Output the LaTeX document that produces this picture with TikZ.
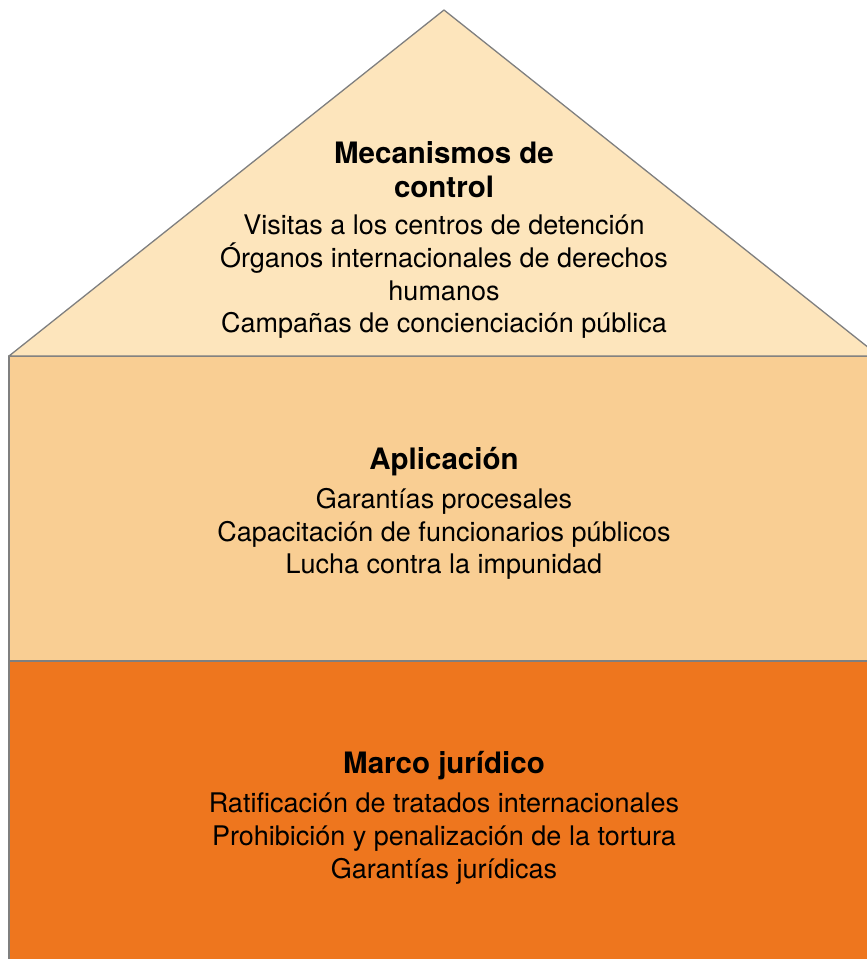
\documentclass[tikz,border=0pt]{standalone}
\usepackage{fontspec}
\setmainfont{TeX Gyre Heros}
\usetikzlibrary{positioning}

\definecolor{roofpeach}{HTML}{FDE5BC}
\definecolor{wallpeach}{HTML}{F9CE93}
\definecolor{baseorange}{HTML}{EE761E}
\definecolor{edgegray}{HTML}{7F7F7F}

\begin{document}
\begin{tikzpicture}[x=1pt, y=-1pt, line join=round,
		block/.style={fill=#1, draw=edgegray, line width=1.3pt},
		heading/.style={font=\fontsize{29.5}{34}\selectfont\bfseries, align=center, inner sep=0pt},
		items/.style={font=\fontsize{27}{32.7}\selectfont, align=center, inner sep=0pt}]

		\useasboundingbox (0,0) rectangle (867,959);
		\clip (0,0) rectangle (867,959);

		% ================= house =================
		\draw[block=baseorange] (9,661) rectangle (885,975);
		\draw[block=wallpeach]  (9,356) rectangle (885,661);
		\draw[block=roofpeach]  (9,356) -- (444,10) -- (879,356) -- cycle;

		% ================= roof: control =================
		\node[heading] (roofhead) at (444,170) {Mecanismos de\\control};
		\node[items] (roofitems) at (444,277) {Visitas a los centros de detención\\
			Órganos internacionales de derechos\\humanos\\
			Campañas de concienciación pública};

		% ================= wall: application =================
		\node[heading] (wallhead) at (444,462) {Aplicación};
		\node[items] (wallitems) at (444,534) {Garantías procesales\\
			Capacitación de funcionarios públicos\\
			Lucha contra la impunidad};

		% ================= base: legal frame =================
		\node[heading] (basehead) at (444,766) {Marco jurídico};
		\node[items] (baseitems) at (444,838.5) {Ratificación de tratados internacionales\\
			Prohibición y penalización de la tortura\\
			Garantías jurídicas};

	\end{tikzpicture}
\end{document}
